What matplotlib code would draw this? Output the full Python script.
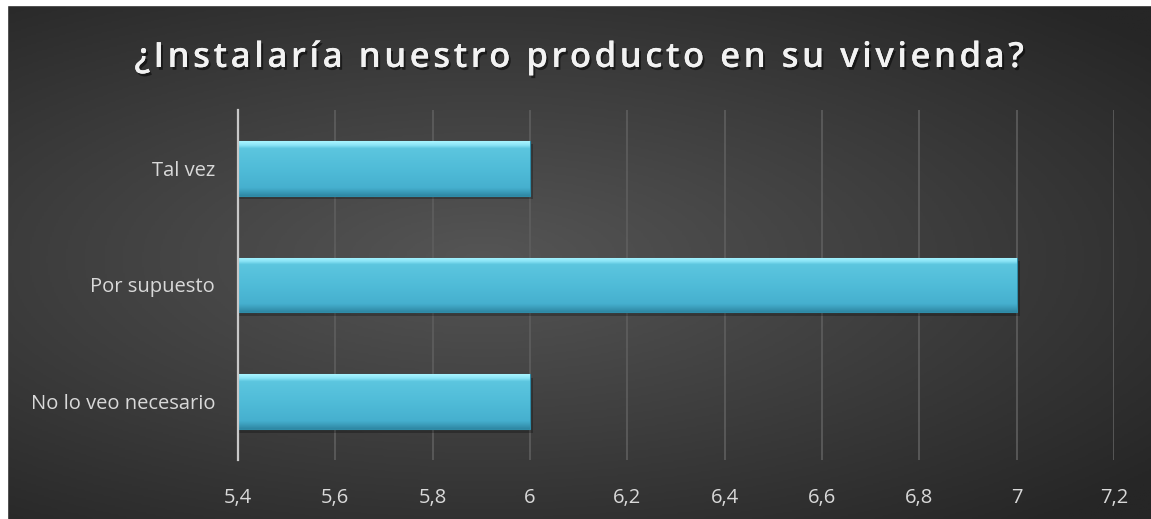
import numpy as np
import matplotlib
matplotlib.use('Agg')
import matplotlib.pyplot as plt
from matplotlib.colors import LinearSegmentedColormap
from matplotlib.patches import Rectangle
import matplotlib.patheffects as pe

categories = ['No lo veo necesario', 'Por supuesto', 'Tal vez']
values = [6, 7, 6]
xticks = [5.4, 5.6, 5.8, 6.0, 6.2, 6.4, 6.6, 6.8, 7.0, 7.2]
title = '¿Instalaría nuestro producto en su vivienda?'

W, H = 1151, 519
fig = plt.figure(figsize=(W/100, H/100), dpi=100)
fig.patch.set_facecolor('#262626')

# dark radial background
bg = fig.add_axes([0, 0, 1, 1])
bg.set_axis_off()
yy, xx = np.mgrid[0:1:300j, 0:1:600j]
r = np.sqrt(((xx - 0.42) / 0.8) ** 2 + ((yy - 0.5) / 0.7) ** 2)
bgcm = LinearSegmentedColormap.from_list('bg', ['#555555', '#3e3e3e', '#262626'])
bg.imshow(r, cmap=bgcm, vmin=0, vmax=0.95, aspect='auto', extent=[0, 1, 0, 1])
bg.set_xlim(0, 1)
bg.set_ylim(0, 1)
# white margin at top and left of the original screenshot
bg.add_patch(Rectangle((0, 0), 7/W, 1, color='white', zorder=5))
bg.add_patch(Rectangle((0, 1 - 5/H), 1, 5/H, color='white', zorder=5))

ax = fig.add_axes([238/W, 1 - 460/H, (1114 - 238)/W, 350/H])
ax.patch.set_alpha(0)
y = np.arange(len(categories))
bars = ax.barh(y, values, height=0.47, left=0, color='#4ab6d3', edgecolor='#2f8ca8',
               linewidth=0.8, zorder=3)

barcm = LinearSegmentedColormap.from_list('bar', [
    (0.0, '#a8f4ff'), (0.07, '#8ae4f6'), (0.13, '#5cc6df'), (0.5, '#50bcd8'),
    (0.85, '#46b0cf'), (0.92, '#3c9fbd'), (1.0, '#2f88a4')])
grad = np.linspace(0, 1, 100).reshape(-1, 1)
for b in bars:
    x0 = 5.4
    x1 = b.get_x() + b.get_width()
    y0 = b.get_y()
    y1 = y0 + b.get_height()
    # soft shadow
    ax.barh(b.get_y() + b.get_height()/2 - 0.03, x1 - x0 + 0.006, height=b.get_height(),
            left=x0, color='black', alpha=0.25, zorder=2, linewidth=0)
    im = ax.imshow(grad, cmap=barcm, aspect='auto', origin='upper',
                   extent=[x0, x1, y0, y1], zorder=4)
    im.set_clip_path(b)
ax.set_xlim(5.4, 7.2)
ax.set_ylim(-0.5, len(categories) - 0.5)

ax.set_xticks(xticks)
ax.set_xticklabels([('%g' % t).replace('.', ',') for t in xticks])
ax.set_yticks(y)
ax.set_yticklabels(categories)
ax.tick_params(axis='both', length=0, colors='#d9d9d9', labelsize=14.5)
ax.tick_params(axis='x', pad=20)
ax.tick_params(axis='y', pad=16.5)
for lab in ax.get_xticklabels() + ax.get_yticklabels():
    lab.set_fontfamily('Open Sans')
ax.grid(axis='x', color='#5e5e5e', linewidth=1.2, zorder=0)
for s in ['top', 'right', 'bottom']:
    ax.spines[s].set_visible(False)
ax.spines['left'].set_color('#c8c8c8')
ax.spines['left'].set_linewidth(1.6)
ax.spines['left'].set_zorder(5)

spaced = '\u200a'.join(title)
fig.text(580/W, 1 - 58/H, spaced, ha='center', va='center', color='#f2f2f2',
         fontsize=25, fontweight='semibold', family=['Open Sans', 'DejaVu Sans'],
         path_effects=[pe.withSimplePatchShadow(offset=(1.5, -2), shadow_rgbFace='black', alpha=0.5),
                       pe.Normal()])

fig.savefig('out.png', dpi=100, facecolor=fig.get_facecolor())
